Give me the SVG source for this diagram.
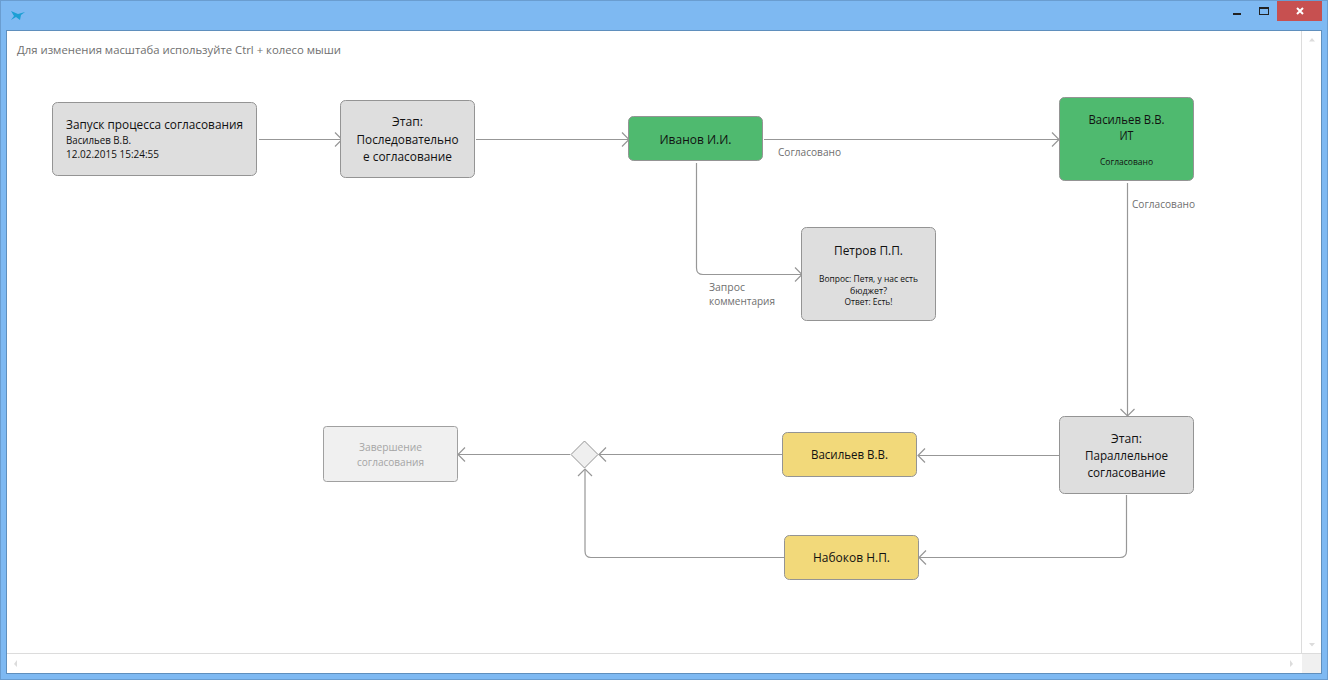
<svg xmlns="http://www.w3.org/2000/svg" width="1328" height="680" viewBox="0 0 1328 680">
<style>
text{font-family:"Open Sans","Noto Sans",sans-serif;fill:#111}
.n{font-size:13.4px}
.s{font-size:11.5px}
.x{font-size:9.8px}
.l{font-size:11.3px;fill:#6f6f6f}
.e{font-size:11.3px;fill:#a5a5a5}
.m{text-anchor:middle}
.box{stroke:#949494;stroke-width:1}
.g{fill:#dedede}
.gr{fill:#4fba6f}
.y{fill:#f2d97a}
.c{fill:none;stroke:#979797;stroke-width:1.2;marker-end:url(#a)}
</style>
<defs>
<marker id="a" markerUnits="userSpaceOnUse" markerWidth="12" markerHeight="16" refX="10" refY="8" orient="auto" overflow="visible">
<path d="M3 1L10 8L3 15" fill="none" stroke="#979797" stroke-width="1.200"/>
</marker>
</defs>
<g id="window">
<rect x="0" y="0" width="1328" height="680" fill="#7eb9f2"/>
<rect x="0.5" y="0.5" width="1327" height="679" fill="none" stroke="#6a9dd0"/>
<rect x="6.5" y="30.5" width="1315" height="643" fill="#fff" stroke="#5f8fbd"/>
<path d="M1301.5 31V654M7 653.5H1321" stroke="#dcdcdc" fill="none"/>
<rect x="1302" y="654" width="19" height="19" fill="#f0f0f0"/>
<path d="M1309 41.500L1312 38L1315 41.500ZM1309 643L1312 646.500L1315 643ZM1290 660L1293 664L1290 667ZM17 660L14 664L17 667Z" fill="#dcdcdc"/>
<rect x="1277" y="1" width="45" height="20" fill="#c75050"/>
<path d="M1297 8L1303 14M1303 8L1297 14" stroke="#fff" stroke-width="2"/>
<rect x="1233" y="13" width="8" height="2" fill="#222"/>
<rect x="1259.500" y="7.500" width="9" height="7" fill="none" stroke="#222"/><rect x="1259" y="7" width="10" height="2" fill="#222"/>
<path d="M11 11L18 14L25 12L21 15L20 20L16 17L11 20L14 16Z" fill="#1c9fd4"/>
<text x="17" y="54" class="l" textLength="324" lengthAdjust="spacingAndGlyphs">Для изменения масштаба используйте Ctrl + колесо мыши</text>
</g>
<g id="connectors">
<path class="c" d="M259 139.500H342"/>
<path class="c" d="M476 139.500H629"/>
<path class="c" d="M764 139.500H1059"/>
<path class="c" d="M696.500 163V268Q696.500 274.500 703 274.500H802"/>
<path class="c" d="M1127.500 183V416"/>
<path class="c" d="M1059 455.500H918"/>
<path class="c" d="M1126.500 495V551Q1126.500 557.500 1120 557.500H919"/>
<path class="c" d="M782 454.500H599"/>
<path class="c" d="M785 557.500H591Q585 557.500 585 551V469"/>
<path class="c" d="M570 454.500H458"/>
</g>
<g id="labels">
<text x="778" y="156" class="l" textLength="63" lengthAdjust="spacingAndGlyphs">Согласовано</text>
<text x="1132" y="208" class="l" textLength="63" lengthAdjust="spacingAndGlyphs">Согласовано</text>
<text x="709" y="291" class="l" textLength="36" lengthAdjust="spacingAndGlyphs">Запрос</text>
<text x="709" y="305" class="l" textLength="66" lengthAdjust="spacingAndGlyphs">комментария</text>
</g>
<g id="start">
<rect class="box g" x="52.500" y="102.500" width="204" height="73" rx="5"/>
<text x="66" y="129" class="n" textLength="177" lengthAdjust="spacingAndGlyphs">Запуск процесса согласования</text>
<text x="66" y="144" class="s" textLength="65" lengthAdjust="spacingAndGlyphs">Васильев В.В.</text>
<text x="66" y="158" class="s" textLength="93" lengthAdjust="spacingAndGlyphs">12.02.2015 15:24:55</text>
</g>
<g id="stage1">
<rect class="box g" x="340.500" y="100.500" width="134" height="77" rx="5"/>
<text x="407.500" y="126" class="n m" textLength="31" lengthAdjust="spacingAndGlyphs">Этап:</text>
<text x="407.500" y="144" class="n m" textLength="102" lengthAdjust="spacingAndGlyphs">Последовательно</text>
<text x="407.500" y="161" class="n m" textLength="89" lengthAdjust="spacingAndGlyphs">е согласование</text>
</g>
<g id="ivanov">
<rect class="box gr" x="628.500" y="116.500" width="134" height="44" rx="5"/>
<text x="695.500" y="144" class="n m" textLength="72" lengthAdjust="spacingAndGlyphs">Иванов И.И.</text>
</g>
<g id="vasiliev-it">
<rect class="box gr" x="1059.500" y="97.500" width="134" height="83" rx="5"/>
<text x="1126.500" y="124" class="n m" textLength="76" lengthAdjust="spacingAndGlyphs">Васильев В.В.</text>
<text x="1126.500" y="140" class="n m" textLength="14" lengthAdjust="spacingAndGlyphs">ИТ</text>
<text x="1126.500" y="165" class="x m" textLength="53" lengthAdjust="spacingAndGlyphs">Согласовано</text>
</g>
<g id="petrov">
<rect class="box g" x="801.500" y="227.500" width="134" height="93" rx="5"/>
<text x="868.500" y="255" class="n m" textLength="69" lengthAdjust="spacingAndGlyphs">Петров П.П.</text>
<text x="868.500" y="282" class="x m" textLength="99" lengthAdjust="spacingAndGlyphs">Вопрос: Петя, у нас есть</text>
<text x="868.500" y="294" class="x m" textLength="37" lengthAdjust="spacingAndGlyphs">бюджет?</text>
<text x="868.500" y="305" class="x m" textLength="48" lengthAdjust="spacingAndGlyphs">Ответ: Есть!</text>
</g>
<g id="stage2">
<rect class="box g" x="1059.500" y="416.500" width="134" height="77" rx="5"/>
<text x="1126.500" y="443" class="n m" textLength="31" lengthAdjust="spacingAndGlyphs">Этап:</text>
<text x="1126.500" y="460" class="n m" textLength="83" lengthAdjust="spacingAndGlyphs">Параллельное</text>
<text x="1126.500" y="477" class="n m" textLength="78" lengthAdjust="spacingAndGlyphs">согласование</text>
</g>
<g id="vasiliev">
<rect class="box y" x="782.500" y="432.500" width="134" height="44" rx="5"/>
<text x="849.500" y="459" class="n m" textLength="77" lengthAdjust="spacingAndGlyphs">Васильев В.В.</text>
</g>
<g id="nabokov">
<rect class="box y" x="784.500" y="535.500" width="134" height="44" rx="5"/>
<text x="851.500" y="562" class="n m" textLength="77" lengthAdjust="spacingAndGlyphs">Набоков Н.П.</text>
</g>
<g id="gateway">
<path d="M584.500 441L598 454.500L584.500 468L571 454.500Z" fill="#efefef" stroke="#949494"/>
</g>
<g id="end">
<rect x="323.500" y="426.500" width="134" height="55" rx="3" fill="#f0f0f0" stroke="#a0a0a0"/>
<text x="390.500" y="451" class="e m" textLength="63" lengthAdjust="spacingAndGlyphs">Завершение</text>
<text x="390.500" y="466" class="e m" textLength="67" lengthAdjust="spacingAndGlyphs">согласования</text>
</g>
</svg>
